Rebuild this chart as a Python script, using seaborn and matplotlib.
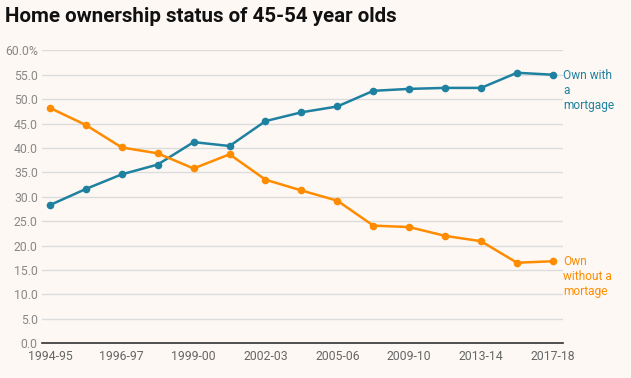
import matplotlib
matplotlib.use("Agg")
import matplotlib.pyplot as plt
import seaborn as sns
import pandas as pd
import numpy as np

years = ["1994-95", "1995-96", "1996-97", "1997-98", "1999-00", "2000-01",
         "2002-03", "2003-04", "2005-06", "2007-08", "2009-10", "2011-12",
         "2013-14", "2015-16", "2017-18"]
with_mortgage = [28.3, 31.6, 34.6, 36.6, 41.2, 40.4, 45.5, 47.3, 48.5, 51.7,
                 52.1, 52.3, 52.3, 55.4, 55.0]
without_mortgage = [48.2, 44.7, 40.1, 38.9, 35.8, 38.7, 33.5, 31.3, 29.2, 24.1,
                    23.8, 22.0, 20.9, 16.5, 16.8]
series_labels = ["Own with\na\nmortgage", "Own\nwithout a\nmortage"]
yticks = [0, 5, 10, 15, 20, 25, 30, 35, 40, 45, 50, 55, 60]
xtick_labels = ["1994-95", "1996-97", "1999-00", "2002-03", "2005-06",
                "2009-10", "2013-14", "2017-18"]

bg = "#fdf8f4"
teal = "#1f81a0"
orange = "#ff8c00"

sns.set_style("white")
plt.rcParams["font.family"] = ["Roboto", "DejaVu Sans"]

df = pd.DataFrame({
    "x": list(range(len(years))) * 2,
    "value": with_mortgage + without_mortgage,
    "series": [series_labels[0]] * len(years) + [series_labels[1]] * len(years),
})

fig = plt.figure(figsize=(6.31, 3.78), dpi=100, facecolor=bg)
ax = fig.add_axes([42 / 631, 1 - 343.3 / 378, (563 - 42) / 631, (343.3 - 50.3) / 378])
ax.set_facecolor(bg)

sns.lineplot(data=df, x="x", y="value", hue="series",
             palette={series_labels[0]: teal, series_labels[1]: orange},
             marker="o", markersize=5.5, markeredgewidth=0, linewidth=1.8,
             legend=False, ax=ax, zorder=3)

ax.set_xlim(-0.22, len(years) - 1 + 0.28)
ax.set_ylim(0, 60)
ax.set_yticks(yticks)
ax.set_yticklabels([f"{v:.1f}%" if v == 60 else f"{v:.1f}" for v in yticks],
                   color="#888888", fontsize=8.8)
ax.grid(axis="y", color="#dcdcdc", linewidth=1)
ax.set_axisbelow(True)

xpos = [years.index(l) for l in xtick_labels]
ax.set_xticks(xpos)
ax.set_xticklabels(xtick_labels, color="#666666", fontsize=8.8)
ax.tick_params(axis="both", length=0)
ax.tick_params(axis="y", pad=3)
ax.tick_params(axis="x", pad=4.5)

for s in ["top", "right", "left"]:
    ax.spines[s].set_visible(False)
ax.spines["bottom"].set_color("#333333")
ax.spines["bottom"].set_linewidth(1.2)
ax.set_xlabel("")
ax.set_ylabel("")

ax.annotate(series_labels[0], xy=(len(years) - 1, with_mortgage[-1]),
            xytext=(563, 378 - 69), textcoords="figure pixels",
            color=teal, fontsize=8.6, va="top", ha="left", linespacing=1.2)
ax.annotate(series_labels[1], xy=(len(years) - 1, without_mortgage[-1]),
            xytext=(563, 378 - 255), textcoords="figure pixels",
            color=orange, fontsize=8.6, va="top", ha="left", linespacing=1.2)

fig.text(5 / 631, 1 - 17 / 378, "Home ownership status of 45-54 year olds",
         fontsize=14.8, fontweight="bold", color="#111111", va="center", ha="left")

fig.savefig("out.png", dpi=100, facecolor=bg)
